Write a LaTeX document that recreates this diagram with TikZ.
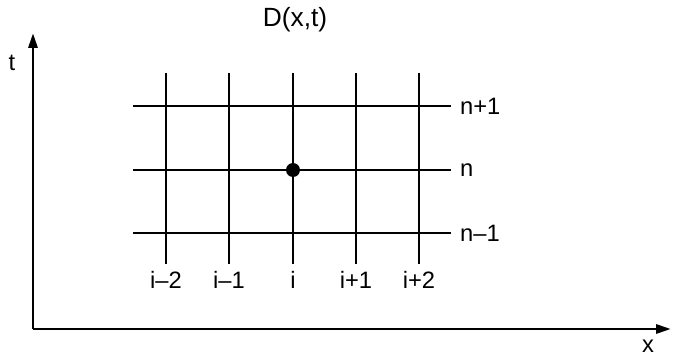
\documentclass[tikz,border=0pt]{standalone}
\usepackage{fontspec}
\setmainfont{Liberation Sans}
\usetikzlibrary{arrows.meta,positioning,calc}
\tikzset{
  axis/.style={-{Triangle[length=3mm,width=1.8mm]},line width=1.7pt,draw=black},
  gridline/.style={draw=black,line width=1.2pt},
  ticklabel/.style={font=\fontsize{13.5}{16}\selectfont,inner sep=1pt},
  titlelabel/.style={font=\fontsize{15}{18}\selectfont,inner sep=1pt},
  meshpoint/.style={circle,fill=black,minimum size=0.28cm,inner sep=0pt}
}
\begin{document}
\begin{tikzpicture}[x=0.02cm,y=-0.02cm]
  \useasboundingbox (0,0) rectangle (673,355);
  % axes
  \coordinate (o) at (33,329);
  \coordinate (tend) at (33,33);
  \coordinate (xend) at (671,329);
  \draw[axis] (o) -- (tend);
  \draw[axis] (o) -- (xend);
  \node[ticklabel] (tlab) at (12,63) {t};
  \node[ticklabel] (xlab) at (648,346) {x};
  \node[titlelabel] (title) at (295,20) {D(x,t)};
  % time levels
  \foreach \y/\lab/\nm in {106/n+1/top,170/n/mid,233/n--1/bot}{
    \coordinate (l\nm) at (133,\y);
    \coordinate (r\nm) at (451,\y);
    \draw[gridline] (l\nm) -- (r\nm);
    \node[ticklabel,anchor=west,right=4pt of r\nm] (lab\nm) {\lab};
  }
  % space nodes
  \foreach \x/\lab/\k in {166/i--2/a,229/i--1/b,293/i/c,356/i+1/d,419/i+2/e}{
    \coordinate (u\k) at (\x,73);
    \coordinate (d\k) at (\x,264);
    \draw[gridline] (u\k) -- (d\k);
    \node[ticklabel,below=3pt of d\k] (lab\k) {\lab};
  }
  \node[meshpoint] (pt) at (293,170) {};
\end{tikzpicture}
\end{document}
